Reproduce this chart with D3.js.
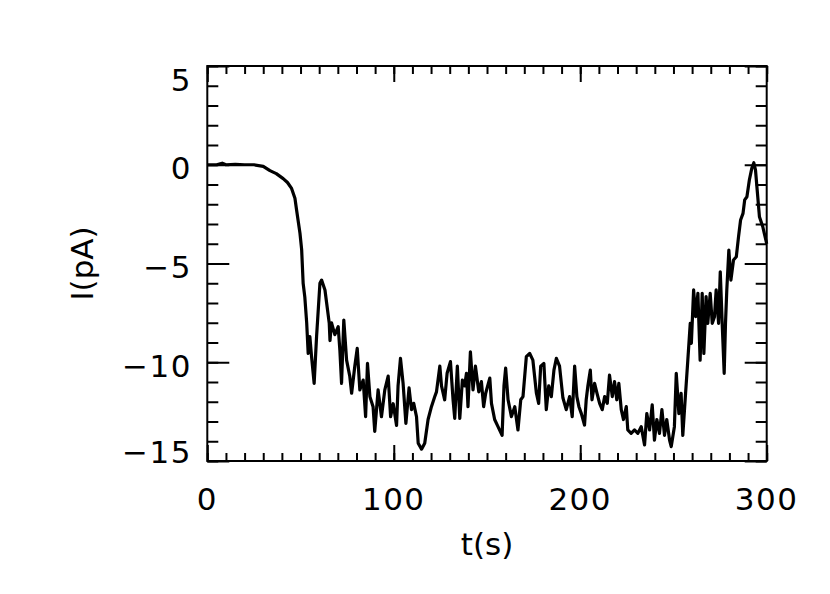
<!DOCTYPE html>
<html>
<head>
<meta charset="utf-8">
<script src="https://cdn.jsdelivr.net/npm/d3@7"></script>
<style>
  body { margin: 0; background: #fff; }
  text { font-family: "DejaVu Sans", sans-serif; fill: #000; }
</style>
</head>
<body>
<div id="chart"></div>
<script>
// time (s) and current (pA)
const times = [0, 5, 8, 10, 15, 20, 25, 30, 33.6, 37, 40.7, 43, 45.2, 47, 47.9, 49.7, 50.6, 51.4, 52.3, 53.3,
  54.1, 55, 55.9, 57.3, 58.6, 60.4, 61.3, 63.1, 64, 65.4, 65.8, 66.6, 68.4, 70.2, 71.1, 72, 73.2, 74.7, 76.4, 77.4,
  79.1, 80.4, 81.8, 83.6, 84.9, 85.9, 87.2, 88.9, 89.8, 91.6, 93.4, 95.2, 97, 98.3, 99.7, 101.5, 102.3, 103.6, 105, 106.5,
  108.2, 109.5, 110.7, 112.2, 113.1, 114.9, 116.6, 118.4, 120.2, 122, 122.9, 124.7, 125.6, 127.3, 128.6, 130.4, 131.8, 132.7, 134.1, 135.4,
  136.8, 138, 139, 139.8, 141.1, 142.5, 143.8, 145.6, 147, 148.2, 149.3, 151.5, 152.4, 154.1, 155.9, 158.1, 159.1, 160, 161.3, 163.1,
  164.9, 166.6, 168.1, 169.3, 171.1, 172.9, 174.6, 176.5, 177.7, 178.8, 180.5, 181.8, 183.1, 184.5, 185.9, 187.2, 188.9, 190.7, 192.5, 194.3,
  195.7, 197, 198.2, 199.3, 200.6, 202.3, 203.2, 204.1, 205.4, 206.3, 207.7, 209, 210.4, 211.8, 213.1, 214.5, 215.7, 217.2, 218.4, 219.6,
  220.7, 222, 223.2, 224.7, 225.5, 227.3, 229.1, 230.9, 232.7, 234.5, 235.7, 237.2, 238.6, 239.8, 241.1, 242.5, 243.8, 245.2, 246.4, 247.9,
  248.8, 250.5, 251.5, 252.9, 254.1, 255, 256.5, 257.7, 259, 259.6, 260.8, 261.9, 263.1, 264.3, 265.4, 266.3, 267.5, 268.4, 269.7, 270.8,
  272, 272.9, 274.2, 275.1, 276.2, 277.2, 277.9, 278.6, 279.7, 280.8, 282.2, 283.7, 284.9, 286, 287.3, 288.2, 289.4, 290.7, 292, 293.1,
  294, 294.9, 296.1, 297.9, 300];
const current = [0, 0, 0.08, 0, 0.02, 0, 0, -0.08, -0.3, -0.45, -0.7, -0.9, -1.2, -1.7, -2.3, -3.47, -4.3, -6.0, -6.7, -8.0,
  -9.55, -8.7, -9.7, -11.07, -8.7, -6.0, -5.84, -6.34, -7.0, -8.03, -8.9, -8.0, -8.6, -8.2, -9.4, -11.07, -7.86, -9.89, -10.7, -11.57,
  -10.2, -9.3, -11.4, -10.9, -12.76, -10.06, -11.74, -12.25, -13.5, -11.4, -12.76, -11.4, -10.7, -12.76, -12.1, -13.2, -11.2, -9.8, -11.07, -13.1,
  -11.3, -12.4, -12.08, -12.76, -14.1, -14.4, -14.1, -12.9, -12.25, -11.74, -11.5, -10.2, -11.2, -11.9, -10.56, -9.97, -11.9, -12.84, -10.2, -12.84,
  -10.9, -11.2, -10.56, -12.25, -9.47, -11.4, -10.2, -11.5, -10.98, -12.25, -11.57, -10.8, -12.08, -12.9, -13.26, -13.7, -11.2, -10.3, -11.9, -12.75,
  -12.25, -13.43, -11.9, -11.74, -9.72, -9.55, -9.89, -11.57, -12.08, -10.2, -10.06, -12.4, -11.2, -11.74, -10.4, -9.8, -10.2, -11.8, -12.4, -11.74,
  -12.76, -10.2, -11.74, -12.25, -12.6, -13.18, -11.9, -11.2, -10.4, -11.9, -11.07, -11.57, -12.08, -12.4, -11.74, -12.08, -10.65, -11.74, -10.98, -11.9,
  -11.07, -12.4, -12.9, -12.25, -13.43, -13.6, -13.43, -13.6, -13.26, -14.19, -12.6, -13.43, -12.16, -13.94, -12.9, -13.6, -12.4, -13.7, -12.9, -13.94,
  -14.27, -13.26, -10.56, -12.6, -11.57, -13.7, -11.57, -9.89, -8.03, -9.04, -6.34, -7.69, -6.51, -9.89, -6.51, -9.55, -6.68, -8.03, -6.51, -8.03,
  -7.69, -6.34, -8.03, -5.42, -8.2, -10.56, -8.03, -6.34, -4.32, -5.84, -4.82, -4.66, -3.64, -2.8, -2.46, -1.78, -1.62, -0.77, -0.18, 0.1,
  -0.27, -1.28, -2.63, -3.14, -4.0];

const xTickLabels = [0, 100, 200, 300];
const yTickLabels = [-15, -10, -5, 0, 5];

const W = 830, H = 594;
const plotL = 207.3, plotR = 766.7, plotT = 66, plotB = 461;

const svg = d3.select("#chart")
  .append("svg")
  .attr("width", W)
  .attr("height", H);

const x = d3.scaleLinear().domain([0, 300]).range([plotL, plotR]);
const y = d3.scaleLinear().domain([-15, 5]).range([plotB, plotT]);

const xMinor = d3.range(0, 301, 10);
const yMinor = d3.range(-15, 6, 1);

// ticks: minor + major, all pointing inward
function drawTicks(axisFn, values, size, transform) {
  svg.append("g")
    .attr("transform", transform)
    .call(axisFn.tickValues(values).tickSize(size).tickSizeOuter(0).tickFormat(""))
    .call(g => g.select(".domain").remove())
    .selectAll("line").attr("stroke", "#000").attr("stroke-width", 2);
}
drawTicks(d3.axisBottom(x), xMinor, -8, `translate(0,${plotB})`);
drawTicks(d3.axisBottom(x), xTickLabels, -16, `translate(0,${plotB})`);
drawTicks(d3.axisTop(x), xMinor, -8, `translate(0,${plotT})`);
drawTicks(d3.axisTop(x), xTickLabels, -16, `translate(0,${plotT})`);
drawTicks(d3.axisLeft(y), yMinor, -11, `translate(${plotL},0)`);
drawTicks(d3.axisLeft(y), yTickLabels, -22, `translate(${plotL},0)`);
drawTicks(d3.axisRight(y), yMinor, -11, `translate(${plotR},0)`);
drawTicks(d3.axisRight(y), yTickLabels, -22, `translate(${plotR},0)`);

// frame
svg.append("rect")
  .attr("x", plotL).attr("y", plotT)
  .attr("width", plotR - plotL).attr("height", plotB - plotT)
  .attr("fill", "none").attr("stroke", "#000").attr("stroke-width", 2);

// trace
const line = d3.line()
  .x((d, i) => x(times[i]))
  .y(d => y(d));

svg.append("path")
  .datum(current)
  .attr("d", line)
  .attr("fill", "none")
  .attr("stroke", "#000")
  .attr("stroke-width", 3.2)
  .attr("stroke-linejoin", "round");

// tick labels
svg.append("g").selectAll("text")
  .data(xTickLabels)
  .join("text")
  .attr("x", d => x(d))
  .attr("y", 510)
  .attr("text-anchor", "middle")
  .style("font-size", "31px")
  .style("letter-spacing", "1.5px")
  .text(d => d);

svg.append("g").selectAll("text")
  .data(yTickLabels)
  .join("text")
  .attr("x", 192)
  .attr("y", d => Math.min(Math.max(y(d) + 14.5, plotT + 24.5), plotB + 1.7))
  .attr("text-anchor", "end")
  .style("font-size", "31px")
  .style("letter-spacing", "1.5px")
  .text(d => d < 0 ? "\u2212" + Math.abs(d) : d);

// axis titles
svg.append("text")
  .attr("x", (plotL + plotR) / 2)
  .attr("y", 555)
  .attr("text-anchor", "middle")
  .style("font-size", "31px")
  .text("t(s)");

svg.append("text")
  .attr("transform", `translate(93,${(plotT + plotB) / 2}) rotate(-90)`)
  .attr("text-anchor", "middle")
  .style("font-size", "31px")
  .text("I(pA)");
</script>
</body>
</html>
